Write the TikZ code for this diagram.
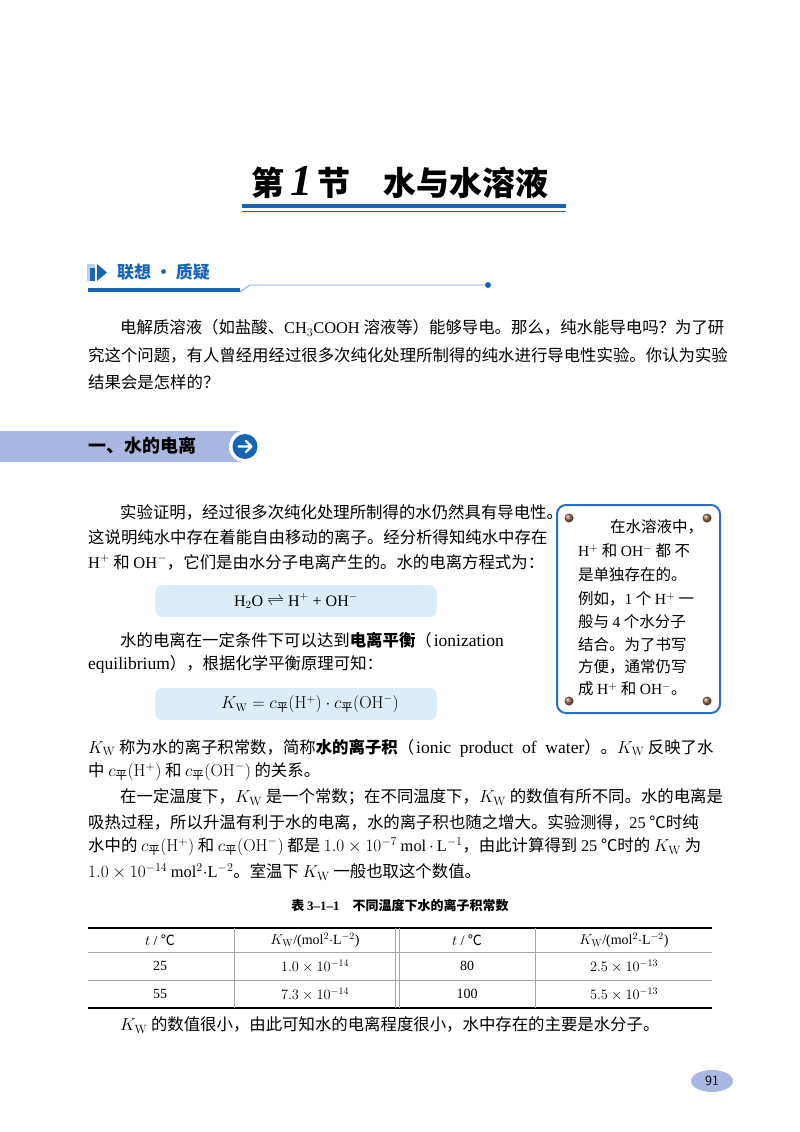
\documentclass[tikz,border=0pt]{standalone}
\usepackage{amsmath}
\usepackage[no-math]{fontspec}
\setmainfont{Noto Sans CJK SC}
\newfontfamily\lat{Liberation Serif}
\usetikzlibrary{calc}
\definecolor{tblue}{HTML}{1565B4}
\definecolor{band}{HTML}{A9B8E1}
\definecolor{eqbg}{HTML}{DAEDF9}
\definecolor{sbox}{HTML}{2A6FC0}
\definecolor{screw}{HTML}{9A6A4A}
\newcommand\cpg{c_{\text{平}}}
\newcommand\KW{K_{\mathrm{W}}}
\newcommand\dc{{\fontspec{Noto Sans CJK SC}℃}}
\begin{document}
\begin{tikzpicture}[x=1pt,y=-1pt,
  txt/.style={anchor=west,inner sep=0pt,font=\fontsize{16.4}{18}\selectfont},
  sbt/.style={anchor=west,inner sep=0pt,font=\fontsize{15.5}{18}\selectfont},
  scr/.style={circle,minimum size=9pt,inner sep=0pt,ball color=screw}]
\useasboundingbox (0,0) rectangle (800,1132);
% title
\node[inner sep=0pt,font=\fontsize{33}{36}\selectfont\bfseries] (title) at (400,183)
  {第\,{\lat\fontsize{44}{44}\selectfont\bfseries\itshape 1}\,节\quad 水与水溶液};
\fill[tblue] (242,204) rectangle (566,208);
\fill[tblue] (242,210.5) rectangle (566,212);
% 联想质疑
\fill[tblue!30] (87,264) rectangle (95,281);
\fill[tblue] (90,268) rectangle (95,281);
\fill[tblue] (97,264) -- (107,272.5) -- (97,281) -- cycle;
\node[anchor=west,inner sep=0pt,text=tblue,font=\fontsize{17}{18}\selectfont\bfseries] (lx) at (117,272) {联想 · 质疑};
\fill[tblue] (88,288) rectangle (240,292);
\draw[tblue!60,line width=0.8pt] (240,292) -- (250,285) -- (487,285);
\fill[tblue] (488,285) circle (3pt);
% para 1
\node[txt] (p1) at (120,328) {电解质溶液（如盐酸、{\lat CH$_3$COOH} 溶液等）能够导电。那么，纯水能导电吗？为了研};
\node[txt] (p2) at (88,355) {究这个问题，有人曾经用经过很多次纯化处理所制得的纯水进行导电性实验。你认为实验};
\node[txt] (p3) at (88,382) {结果会是怎样的？};
% section band
\fill[band] (0,431) rectangle (240,462);
\fill[white] (245,446.5) circle (16);
\fill[tblue] (245,446.5) circle (12.5);
\draw[white,line width=2.2pt,line cap=round,line join=round] (238.5,446.5) -- (251,446.5) (246,441) -- (251.5,446.5) -- (246,452);
\node[anchor=west,inner sep=0pt,font=\fontsize{18}{20}\selectfont\bfseries] (sec) at (88,446) {一、水的电离};
% para 2
\node[txt] (q1) at (120,512) {实验证明，经过很多次纯化处理所制得的水仍然具有导电性。};
\node[txt] (q2) at (88,537) {这说明纯水中存在着能自由移动的离子。经分析得知纯水中存在};
\node[txt] (q3) at (88,562) {{\lat H$^+$} 和 {\lat OH$^-$}，它们是由水分子电离产生的。水的电离方程式为：};
\fill[eqbg,rounded corners=8pt] (155,585) rectangle (437,617);
\node[inner sep=0pt,font=\fontsize{16}{18}\selectfont\lat] (eq1) at (296,601) {H$_2$O $\rightleftharpoons$ H$^+$ + OH$^-$};
\node[txt] (q4) at (120,640) {水的电离在一定条件下可以达到\textbf{电离平衡}（\hspace{2pt}{\lat\fontsize{17.5}{18}\selectfont ionization}};
\node[txt] (q5) at (88,664) {{\lat\fontsize{17.5}{18}\selectfont equilibrium}），根据化学平衡原理可知：};
\fill[eqbg,rounded corners=8pt] (155,688) rectangle (437,720);
\node[inner sep=0pt,font=\fontsize{16}{18}\selectfont] (eq2) at (310,704) {$\KW = \cpg(\mathrm{H}^+)\cdot \cpg(\mathrm{OH}^-)$};
% side box
\draw[sbox,line width=2pt,rounded corners=9pt] (557,505) rectangle (720,713);
\node[scr] (s1) at (569,518) {};
\node[scr] (s2) at (707,518) {};
\node[scr] (s3) at (569,701) {};
\node[scr] (s4) at (707,701) {};
\node[sbt] (b1) at (610,527) {在水溶液中，};
\node[sbt] (b2) at (578,551) {{\lat H$^+$} 和 {\lat OH$^-$} 都 不};
\node[sbt] (b3) at (578,575) {是单独存在的。};
\node[sbt] (b4) at (578,599) {例如，{\lat 1} 个 {\lat H$^+$} 一};
\node[sbt] (b5) at (578,622) {般与 {\lat 4} 个水分子};
\node[sbt] (b6) at (578,645) {结合。为了书写};
\node[sbt] (b7) at (578,667) {方便，通常仍写};
\node[sbt] (b8) at (578,689) {成 {\lat H$^+$} 和 {\lat OH$^-$}。};
% para 3
\node[txt] (r1) at (88,748) {$\KW$ 称为水的离子积常数，简称\textbf{水的离子积}（\hspace{2pt}{\lat\fontsize{17.5}{18}\selectfont ionic\ \ product\ \ of\ \ water}）。$\KW$ 反映了水};
\node[txt] (r2) at (88,772) {中 $\cpg(\mathrm{H}^+)$ 和 $\cpg(\mathrm{OH}^-)$ 的关系。};
\node[txt] (r3) at (120,797) {在一定温度下，$\KW$ 是一个常数；在不同温度下，$\KW$ 的数值有所不同。水的电离是};
\node[txt] (r4) at (88,822) {吸热过程，所以升温有利于水的电离，水的离子积也随之增大。实验测得，{\lat 25} \dc 时纯};
\node[txt] (r5) at (88,847) {水中的 $\cpg(\mathrm{H}^+)$ 和 $\cpg(\mathrm{OH}^-)$ 都是 $1.0\times10^{-7}$ {\lat mol}$\,\cdot\,${\lat L}$^{-1}$，由此计算得到 {\lat 25} \dc 时的 $\KW$ 为};
\node[txt] (r6) at (88,872) {$1.0\times10^{-14}$ {\lat mol}$^2\cdot${\lat L}$^{-2}$。室温下 $\KW$ 一般也取这个数值。};
% table
\node[inner sep=0pt,font=\fontsize{13}{15}\selectfont\bfseries] (cap) at (400,906) {表 {\lat 3–1–1}\quad 不同温度下水的离子积常数};
\draw[line width=1.2pt] (88,928) -- (712,928);
\draw[line width=1.2pt] (88,1008) -- (712,1008);
\draw[gray!70,line width=0.8pt] (88,952) -- (712,952) (88,980) -- (712,980);
\draw[gray!70,line width=0.8pt] (234,928) -- (234,1008) (395,928) -- (395,1008) (399,928) -- (399,1008) (535,928) -- (535,1008);
\begin{scope}[every node/.style={inner sep=0pt,font=\fontsize{14}{16}\selectfont\lat}]
\node (h1) at (160,940) {$t$ / \dc};
\node (h2) at (315,940) {$\KW$/(mol$^2\cdot$L$^{-2}$)};
\node (h3) at (467,940) {$t$ / \dc};
\node (h4) at (624,940) {$\KW$/(mol$^2\cdot$L$^{-2}$)};
\node (c1) at (160,966) {25};
\node (c2) at (315,966) {$1.0\times10^{-14}$};
\node (c3) at (467,966) {80};
\node (c4) at (624,966) {$2.5\times10^{-13}$};
\node (d1) at (160,994) {55};
\node (d2) at (315,994) {$7.3\times10^{-14}$};
\node (d3) at (467,994) {100};
\node (d4) at (624,994) {$5.5\times10^{-13}$};
\end{scope}
\node[txt] (last) at (120,1025) {$\KW$ 的数值很小，由此可知水的电离程度很小，水中存在的主要是水分子。};
% page number
\fill[band] (712,1081) ellipse (21 and 11);
\node[inner sep=0pt,font=\fontsize{14}{16}\selectfont\sffamily] (pn) at (712,1081) {91};
\end{tikzpicture}
\end{document}
